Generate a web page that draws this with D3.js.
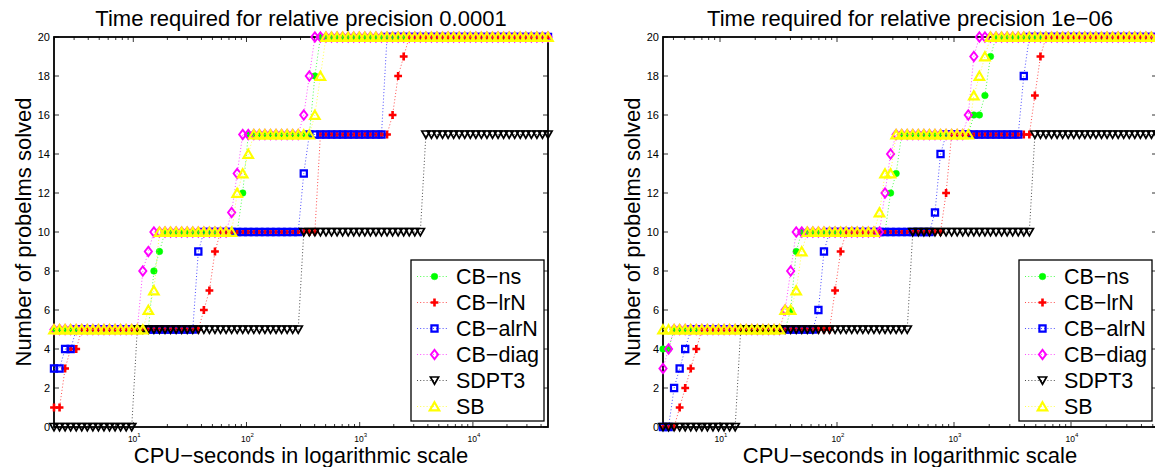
<!DOCTYPE html>
<html>
<head>
<meta charset="utf-8">
<script src="https://cdn.jsdelivr.net/npm/d3@7"></script>
<style>
  body { margin: 0; background: #fff; }
  text { font-family: "Liberation Sans", Arial, Helvetica, sans-serif; }
</style>
</head>
<body>
<div id="chart"></div>
<script>
// solvers, in legend order
var solvers = ["CB\u2212ns", "CB\u2212lrN", "CB\u2212alrN", "CB\u2212diag", "SDPT3", "SB"];
var titles = ["Time required for relative precision 0.0001", "Time required for relative precision 1e\u221206"];
var xLimits = [[1.993, 46070], [3.257, 54330]];
var yTicks = [0, 2, 4, 6, 8, 10, 12, 14, 16, 18, 20];
var xTickExps = [1, 2, 3, 4];
var nSamples = 90;   // time points the profile is evaluated on

// CPU seconds each solver needed for each of the 20 problems (Infinity = not solved)
// relative precision 1e-4
var t4_ns    = [1.5, 1.5, 1.5, 1.5, 1.5, 14.5, 14.5, 14.5, 16.2, 18.1, 86.7, 86.7, 97.0, 97.0, 97.0, 391, 391, 391, 437, 437];
var t4_lrN   = [1.5, 2.32, 2.32, 2.57, 3.15, 41.7, 46.2, 51.1, 51.1, 56.6, 446, 446, 446, 446, 446, 1949, 2180, 2180, 2413, 2672];
var t4_alrN  = [1.5, 1.5, 1.5, 2.35, 2.87, 33.7, 33.7, 33.7, 33.7, 37.7, 312, 312, 312, 346, 346, 1558, 1558, 1558, 1725, 1725];
var t4_diag  = [1.5, 1.5, 1.5, 1.5, 1.5, 12.1, 12.1, 12.1, 13.4, 14.6, 69.3, 77.5, 77.5, 86.7, 86.7, 312, 346, 346, 387, 387];
var t4_sdpt3 = [10.7, 10.7, 10.7, 10.7, 10.7, 303, 303, 303, 303, 303, 3478, 3478, 3478, 3478, 3478, Infinity, Infinity, Infinity, Infinity, Infinity];
var t4_sb    = [1.5, 1.5, 1.5, 1.5, 1.5, 13.2, 14.6, 16.2, 16.2, 16.2, 78.3, 78.3, 86.7, 96.0, 106.3, 360, 442, 442, 489, 489];

// relative precision 1e-6
var t6_ns    = [2, 2, 2, 2, 3.84, 38.0, 42.4, 42.4, 42.4, 47.3, 272, 272, 303, 339, 339, 1397, 1742, 1941, 1941, 2167];
var t6_lrN   = [4.29, 4.77, 5.33, 5.94, 6.61, 91.2, 91.2, 101.6, 101.6, 113.4, 810, 810, 907, 907, 907, 4642, 4642, 5182, 5182, 5787];
var t6_alrN  = [3.84, 3.84, 4.28, 4.77, 5.33, 65.6, 73.3, 73.3, 73.3, 81.7, 651, 727, 727, 727, 810, 3737, 3737, 3737, 4166, 4166];
var t6_diag  = [2, 2, 2, 3.46, 3.84, 34.1, 38.0, 38.0, 42.4, 42.4, 244, 244, 272, 272, 303, 1254, 1397, 1397, 1397, 1560];
var t6_sdpt3 = [14.3, 14.3, 14.3, 14.3, 14.3, 421, 421, 421, 421, 421, 4642, 4642, 4642, 4642, 4642, Infinity, Infinity, Infinity, Infinity, Infinity];
var t6_sb    = [2, 2, 2, 2, 2, 33.9, 42.1, 47.0, 47.0, 52.2, 218, 244, 244, 303, 303, 1397, 1397, 1560, 1742, 1941];

var panelTimes = [
  [t4_ns, t4_lrN, t4_alrN, t4_diag, t4_sdpt3, t4_sb],
  [t6_ns, t6_lrN, t6_alrN, t6_diag, t6_sdpt3, t6_sb]
];

// styles
var colors = ["#00ff00", "#ff0000", "#0000ff", "#ff00ff", "#000000", "#ffff00"];
var shapes = ["dot", "plus", "square", "diamond", "tridown", "triup"];
var strokeW = [0.5, 2.6, 2.2, 1.9, 1.7, 2.1];

// layout
var panelX = [54, 663], plotTop = 37, plotW = 494, plotH = 390;
var legendX = [411, 1019];

var svg = d3.select("#chart").append("svg")
    .attr("width", 1155)
    .attr("height", 467);
svg.append("rect").attr("width", 1155).attr("height", 467).attr("fill", "#fff");

function markerPath(shape) {
  switch (shape) {
    case "dot": return "M3.3,0A3.3,3.3 0 1,1 -3.3,0A3.3,3.3 0 1,1 3.3,0Z";
    case "plus": return "M-3.9,0H3.9M0,-3.9V3.9";
    case "square": return "M-3.1,-3.1H3.1V3.1H-3.1Z";
    case "diamond": return "M0,-4.7L3.6,0L0,4.7L-3.6,0Z";
    case "tridown": return "M-4.1,-3.5L4.1,-3.5L0,3.7Z";
    case "triup": return "M0,-4.3L4.8,3.9L-4.8,3.9Z";
  }
}

function styleMarker(sel, i) {
  var c = colors[i];
  sel.attr("d", markerPath(shapes[i]))
    .attr("fill", shapes[i] == "dot" ? c : "none")
    .attr("stroke", c)
    .attr("stroke-width", strokeW[i])
    .attr("stroke-linejoin", "miter");
}

panelTimes.forEach(function(series, p) {
  var g = svg.append("g").attr("transform", "translate(" + panelX[p] + "," + plotTop + ")");

  var x = d3.scaleLog().domain(xLimits[p]).range([0, plotW]);
  var y = d3.scaleLinear().domain([0, 20]).range([plotH, 0]);

  // box
  g.append("rect").attr("width", plotW).attr("height", plotH)
    .attr("fill", "none").attr("stroke", "#000").attr("stroke-width", 1.8);

  // x ticks (major + minor, bottom and top, pointing inward)
  var minor = x.ticks().filter(function(v) { return v >= xLimits[p][0] && v <= xLimits[p][1]; });
  minor.forEach(function(v) {
    var lg10 = Math.log10(v);
    var major = Math.abs(lg10 - Math.round(lg10)) < 1e-9;
    var len = major ? 5 : 3;
    g.append("line").attr("x1", x(v)).attr("x2", x(v)).attr("y1", plotH).attr("y2", plotH - len)
      .attr("stroke", "#000").attr("stroke-width", 0.8);
    g.append("line").attr("x1", x(v)).attr("x2", x(v)).attr("y1", 0).attr("y2", len)
      .attr("stroke", "#000").attr("stroke-width", 0.8);
  });
  xTickExps.forEach(function(e) {
    var t = g.append("text").attr("x", x(Math.pow(10, e)) + 1).attr("y", plotH + 15)
      .attr("text-anchor", "middle").style("font-size", "8.5px").text("10");
    t.append("tspan").attr("dy", -5).style("font-size", "6px").text(e);
  });

  // y ticks
  yTicks.forEach(function(v) {
    g.append("line").attr("x1", 0).attr("x2", 5).attr("y1", y(v)).attr("y2", y(v))
      .attr("stroke", "#000").attr("stroke-width", 0.8);
    g.append("line").attr("x1", plotW).attr("x2", plotW - 5).attr("y1", y(v)).attr("y2", y(v))
      .attr("stroke", "#000").attr("stroke-width", 0.8);
    g.append("text").attr("x", -4).attr("y", y(v)).attr("dy", "0.36em")
      .attr("text-anchor", "end").style("font-size", "11px").text(v);
  });

  // titles and labels
  g.append("text").attr("x", plotW / 2).attr("y", -11).attr("text-anchor", "middle")
    .style("font-size", "22px").text(titles[p]);
  g.append("text").attr("x", plotW / 2).attr("y", plotH + 36).attr("text-anchor", "middle")
    .style("font-size", "22px").text("CPU\u2212seconds in logarithmic scale");
  g.append("text").attr("transform", "translate(-23," + (plotH / 2) + ") rotate(-90)")
    .attr("text-anchor", "middle").style("font-size", "22px").text("Number of probelms solved");

  // sample times, evenly spaced on the log axis
  var lo = Math.log10(xLimits[p][0]), hi = Math.log10(xLimits[p][1]);
  var samples = d3.range(nSamples).map(function(k) { return Math.pow(10, lo + (hi - lo) * k / (nSamples - 1)); });

  series.forEach(function(times, i) {
    var pts = samples.map(function(s) {
      return [s, times.filter(function(t) { return t <= s; }).length];
    });
    g.append("path").datum(pts)
      .attr("fill", "none")
      .attr("stroke", colors[i])
      .attr("stroke-width", 1)
      .attr("stroke-dasharray", "1,2.2")
      .attr("opacity", 0.7)
      .attr("d", d3.line().x(function(d) { return x(d[0]); }).y(function(d) { return y(d[1]); }));
    g.selectAll(null).data(pts).enter().append("path")
      .attr("transform", function(d) { return "translate(" + x(d[0]) + "," + y(d[1]) + ")"; })
      .call(styleMarker, i);
  });

  // legend
  var lg = svg.append("g").attr("transform", "translate(" + legendX[p] + ",260)");
  lg.append("rect").attr("width", 133).attr("height", 161)
    .attr("fill", "#fff").attr("stroke", "#000").attr("stroke-width", 1.3);
  solvers.forEach(function(name, i) {
    var cy = 16.5 + i * 26;
    lg.append("line").attr("x1", 6).attr("x2", 38).attr("y1", cy).attr("y2", cy)
      .attr("stroke", colors[i]).attr("stroke-width", 1).attr("stroke-dasharray", "1,2.2").attr("opacity", 0.7);
    lg.append("path").attr("transform", "translate(23.5," + cy + ")").call(styleMarker, i);
    lg.append("text").attr("x", 45).attr("y", cy + 7.7).style("font-size", "21.5px").text(name);
  });
});
</script>
</body>
</html>
